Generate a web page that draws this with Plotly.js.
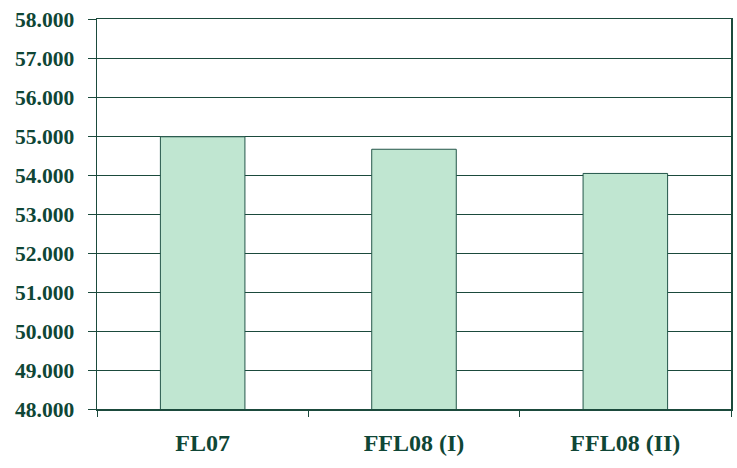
<!DOCTYPE html>
<html>
<head>
<meta charset="utf-8">
<script src="https://cdn.plot.ly/plotly-3.0.1.min.js"></script>
<style>html,body{margin:0;padding:0;background:#fff;}#chart{width:737px;height:468px;}</style>
</head>
<body>
<div id="chart"></div>
<script>
const categories = ["FL07", "FFL08 (I)", "FFL08 (II)"];
const values = [54980, 54660, 54040];
const yTickVals = [48000, 49000, 50000, 51000, 52000, 53000, 54000, 55000, 56000, 57000, 58000];
const yTickLabels = ["48.000", "49.000", "50.000", "51.000", "52.000", "53.000", "54.000", "55.000", "56.000", "57.000", "58.000"];

const dark = "#1b4a3c";
const textColor = "#0f4636";
const fam = "Liberation Serif";

Plotly.newPlot("chart", [{
  type: "bar",
  x: categories,
  y: values,
  marker: { color: "#c0e6d1", line: { color: "#24564a", width: 1 } },
  hoverinfo: "none"
}], {
  width: 737, height: 468,
  margin: { l: 97, r: 6, t: 19, b: 59 },
  paper_bgcolor: "#fff", plot_bgcolor: "#fff",
  bargap: 0.6,
  showlegend: false,
  font: { family: fam, color: textColor },
  xaxis: {
    type: "category",
    showline: true, linecolor: dark, linewidth: 1.5, mirror: true,
    ticks: "outside", tickson: "boundaries", ticklen: 6, tickcolor: dark, tickwidth: 1,
    showgrid: false,
    tickfont: { size: 24, family: fam, color: textColor, weight: "bold" },
    ticklabelstandoff: 12
  },
  yaxis: {
    range: [48000, 58000],
    tickmode: "array",
    tickvals: yTickVals,
    ticktext: yTickLabels,
    showline: true, linecolor: dark, linewidth: 1.5, mirror: true,
    ticks: "outside", ticklen: 8, tickcolor: dark, tickwidth: 1,
    showgrid: true, gridcolor: dark, gridwidth: 1,
    zeroline: false,
    tickfont: { size: 21.5, family: fam, color: textColor, weight: "bold" },
    ticklabelstandoff: 9
  }
}, { displayModeBar: false, staticPlot: true });
</script>
</body>
</html>
